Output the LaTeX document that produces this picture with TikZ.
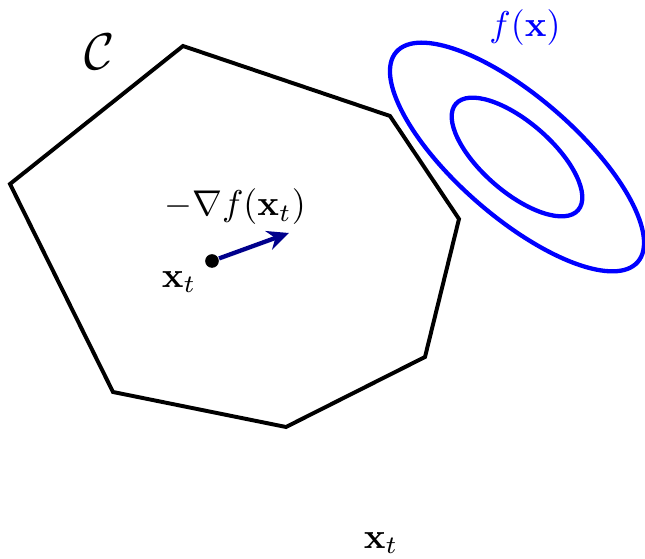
\documentclass[tikz,border=0pt]{standalone}
\usepackage{amsmath}
\usetikzlibrary{arrows.meta}
\begin{document}
\begin{tikzpicture}[x=0.279pt,y=-0.279pt,
  edge/.style={line width=1.1pt, line join=miter},
  level/.style={blue, line width=1.2pt},
  grad/.style={color={rgb,255:red,0;green,0;blue,140}, line width=1.2pt, -{Stealth[length=6pt,width=5.5pt]}},
  pt/.style={circle, fill=black, inner sep=0pt, minimum size=3.8pt}]
\useasboundingbox (0,0) rectangle (645,559);
\coordinate (p1) at (183,46);
\coordinate (p2) at (390,116);
\coordinate (p3) at (459,219);
\coordinate (p4) at (425,357);
\coordinate (p5) at (286,427);
\coordinate (p6) at (113,392);
\coordinate (p7) at (10,184);
\draw[edge] (p1) -- (p2) -- (p3) -- (p4) -- (p5) -- (p6) -- (p7) -- cycle;
\coordinate (c) at (517,157);
\draw[level] (c) ellipse[x radius=160, y radius=60, rotate=-41];
\draw[level] (c) ellipse[x radius=81, y radius=35, rotate=-41];
\node[pt] (xt) at (212,261) {};
\coordinate (tip) at (289,233);
\draw[grad] (xt) -- (tip);
\node (grad) at (235,207) {$-\nabla f(\mathbf{x}_t)$};
\node (xl) at (179,282) {$\mathbf{x}_t$};
\node (C) at (100,52) {\Large $\mathcal{C}$};
\node[blue] (fx) at (525,28) {$f(\mathbf{x})$};
\node (xb) at (381,543) {$\mathbf{x}_t$};
\end{tikzpicture}
\end{document}
